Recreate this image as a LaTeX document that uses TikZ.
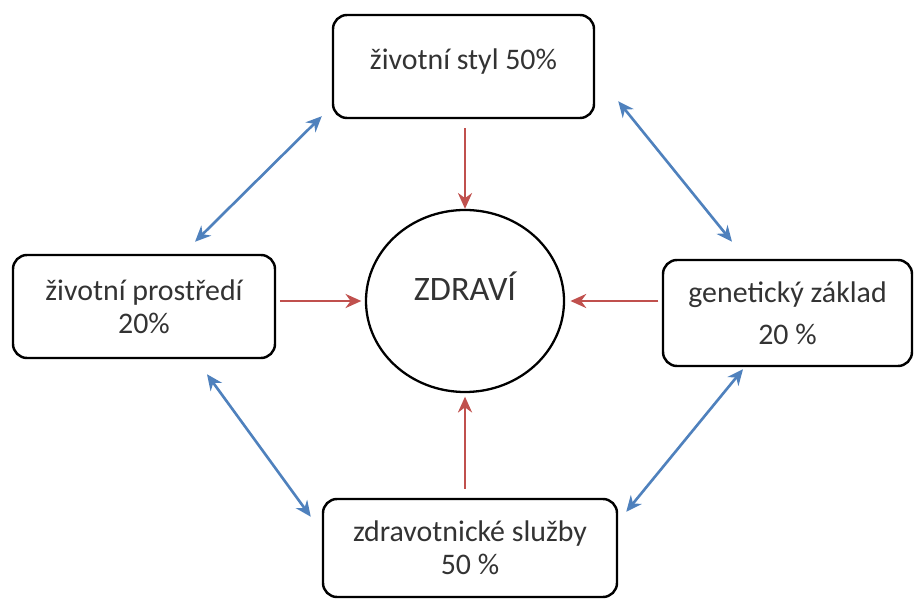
\documentclass[tikz,border=0pt]{standalone}
\usepackage{fontspec}
\setmainfont{Carlito}
\usepackage{xcolor}
\usetikzlibrary{positioning, arrows.meta, calc, shapes.geometric}

\definecolor{linkred}{HTML}{C0504D}
\definecolor{linkblue}{HTML}{4F81BD}

\begin{document}
\begin{tikzpicture}[
  box/.style={draw, line width=1.4pt, rounded corners=8pt, align=center,
    text=black!80, inner sep=0pt, font=\fontsize{17}{19}\selectfont},
  toward/.style={draw=linkred, line width=1.5pt, -{Stealth[length=9pt, width=8pt]}},
  mutual/.style={draw=linkblue, line width=1.5pt,
    {Stealth[length=9pt, width=8pt]}-{Stealth[length=9pt, width=8pt]}}
]
\useasboundingbox (0, 0) rectangle (18.28, 11.98);

\node[box, minimum width=5.22cm, minimum height=2.06cm, text depth=8pt] (styl) at (9.27, 10.65) {životní styl 50\%};
\node[box, minimum width=5.24cm, minimum height=2.06cm] (prostredi) at (2.88, 5.85) {životní prostředí\\20\%};
\node[box, minimum width=4.98cm, minimum height=2.12cm] (genetika) at (15.75, 5.72) {genetický základ\\[5pt]20 \%};
\node[box, minimum width=5.88cm, minimum height=1.96cm] (sluzby) at (9.40, 1.02) {zdravotnické služby\\50 \%};

\node[draw, ellipse, line width=1.3pt, minimum width=3.96cm, minimum height=3.64cm,
  text=black!80, text depth=17pt, font=\fontsize{19.5}{22}\selectfont] (zdravi) at (9.30, 5.96) {ZDRAVÍ};

\draw[toward, shorten <=5pt] (styl.south -| zdravi.north) -- (zdravi.north);
\draw[toward, shorten <=2pt, shorten >=2pt] (prostredi.east |- zdravi.west) -- (zdravi.west);
\draw[toward, shorten <=2pt, shorten >=3pt] (genetika.west |- zdravi.east) -- (zdravi.east);
\draw[toward, shorten <=5pt, shorten >=2pt] (sluzby.north -| zdravi.south) -- (zdravi.south);

\draw[mutual] ([shift={(1.02, 0.24)}]prostredi.north) -- ([shift={(-0.2, 0.06)}]styl.south west);
\draw[mutual] ([shift={(0.46, 0.36)}]styl.south east) -- ([shift={(-1.11, 0.34)}]genetika.north);
\draw[mutual] ([shift={(-0.89, -0.04)}]genetika.south) -- ([shift={(0.16, -0.28)}]sluzby.north east);
\draw[mutual] ([shift={(1.26, -0.30)}]prostredi.south) -- ([shift={(-0.22, -0.38)}]sluzby.north west);
\end{tikzpicture}
\end{document}
